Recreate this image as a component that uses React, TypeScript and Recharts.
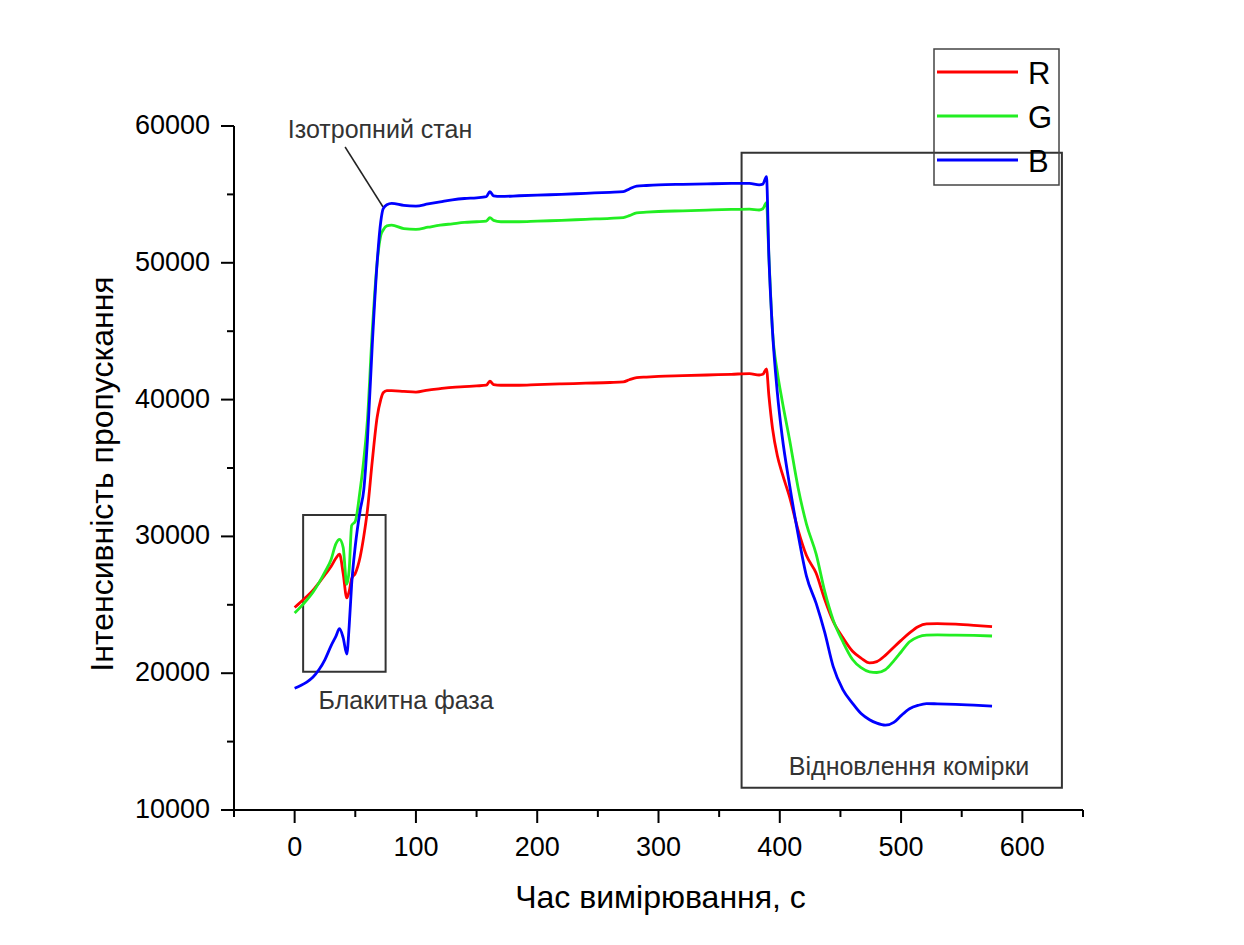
import { LineChart, Line, XAxis, YAxis, Legend, ReferenceArea, ReferenceLine, ReferenceDot } from 'recharts';

// час, с
const time = [
  0, 5, 10, 15, 20, 25, 30, 34, 37, 40, 43, 45, 47, 50, 54, 57, 60, 64, 68, 71, 73, 76, 80, 90, 100, 110, 120, 130,
  140, 150, 158, 161, 164, 170, 185, 200, 220, 240, 260, 271, 276, 282, 290, 300, 320, 340, 360, 375, 383, 386, 389,
  391, 394, 398, 402, 408, 415, 422, 430, 437, 444, 452, 460, 467, 474, 480, 487, 494, 500, 507, 514, 521, 530, 545,
  560, 575,
];

const red = [
  24800, 25200, 25600, 26050, 26600, 27200, 27800, 28400, 28700, 27300, 25500, 26000, 26900, 27300, 28500, 30000,
  31900, 35500, 38700, 40000, 40500, 40650, 40650, 40600, 40550, 40700, 40800, 40900, 40950, 41000, 41050, 41350,
  41100, 41050, 41050, 41100, 41150, 41200, 41250, 41300, 41450, 41600, 41650, 41700, 41750, 41800, 41850, 41900,
  41800, 41850, 42250, 40300, 37900, 35900, 34600, 32900, 30500, 28600, 27300, 25400, 23800, 22600, 21600, 21100,
  20750, 20850, 21300, 21900, 22400, 22950, 23400, 23600, 23620, 23580, 23500, 23400,
];

const green = [
  24400, 24850, 25350, 25900, 26600, 27400, 28300, 29450, 29780, 29200, 26500, 27600, 30800, 31100, 33400, 35600,
  38500, 45000, 50000, 52000, 52400, 52700, 52750, 52500, 52450, 52600, 52750, 52850, 52950, 53000, 53050, 53300,
  53100, 53000, 53000, 53050, 53100, 53180, 53250, 53310, 53450, 53650, 53700, 53750, 53800, 53850, 53900, 53930,
  53860, 53950, 54400, 50500, 45000, 42000, 39900, 37100, 33600, 30900, 28700, 26000, 23900, 22300, 21000, 20400,
  20100, 20050, 20250, 20900, 21550, 22300, 22650, 22780, 22800, 22780, 22760, 22720,
];

const blue = [
  18900, 19100, 19350, 19700, 20250, 21000, 22000, 22700, 23250, 22600, 21400, 23500, 26500, 29300, 31900, 33400,
  37000, 44000, 50000, 53000, 53950, 54250, 54350, 54200, 54150, 54300, 54450, 54600, 54700, 54750, 54830, 55200,
  54900, 54850, 54900, 54950, 55000, 55080, 55150, 55200, 55400, 55600, 55650, 55700, 55740, 55770, 55800, 55810,
  55700, 55750, 56300, 50500, 45000, 40500, 37300, 33800, 30200, 27100, 25100, 23000, 20500, 18800, 17800, 17050,
  16600, 16350, 16200, 16400, 16900, 17400, 17650, 17780, 17760, 17720, 17660, 17600,
];

const seriesOrder = ['R', 'G', 'B'];
const xTicks = [-50, 0, 50, 100, 150, 200, 250, 300, 350, 400, 450, 500, 550, 600, 650];
const yTicks = [10000, 15000, 20000, 25000, 30000, 35000, 40000, 45000, 50000, 55000, 60000];

const data = time.map((t, i) => ({ t, R: red[i], G: green[i], B: blue[i] }));

const FONT = '"Liberation Sans", Arial, sans-serif';

const YTick = ({ x, y, payload }: any) => {
  const major = payload.value % 10000 === 0;
  return (
    <g>
      <line x1={x} x2={x - (major ? 13 : 7)} y1={y} y2={y} stroke="#000" strokeWidth={2} />
      {major && (
        <text x={x - 24} y={y + 8} textAnchor="end" fontSize={27} fontFamily={FONT} fill="#000">
          {payload.value}
        </text>
      )}
    </g>
  );
};

const XTick = ({ x, y, payload }: any) => {
  const major = payload.value % 100 === 0;
  return (
    <g>
      <line x1={x} x2={x} y1={y} y2={y + (major ? 13 : 7)} stroke="#000" strokeWidth={2} />
      {major && (
        <text x={x} y={y + 46} textAnchor="middle" fontSize={27} fontFamily={FONT} fill="#000">
          {payload.value}
        </text>
      )}
    </g>
  );
};

const YTitle = ({ viewBox }: any) => {
  const cx = viewBox.x + 94;
  const cy = viewBox.y + viewBox.height / 2 + 6;
  return (
    <text x={cx} y={cy} transform={`rotate(-90 ${cx} ${cy})`} textAnchor="middle" dominantBaseline="central"
      fontSize={32} fontFamily={FONT} fill="#000">
      Інтенсивність пропускання
    </text>
  );
};

const XTitle = ({ viewBox }: any) => (
  <text x={viewBox.x + viewBox.width / 2 + 2} y={viewBox.y + 98} textAnchor="middle" fontSize={32} fontFamily={FONT}
    fill="#000">
    Час вимірювання, с
  </text>
);

const LegendBox = ({ payload }: any) => {
  const items = [...(payload || [])].sort(
    (a: any, b: any) => seriesOrder.indexOf(a.value) - seriesOrder.indexOf(b.value),
  );
  return (
    <svg width={128} height={138} style={{ display: 'block', overflow: 'visible' }}>
      <rect x={1} y={1} width={125} height={136} fill="none" stroke="#444" strokeWidth={1.5} />
      {items.map((e: any, i: number) => (
        <g key={e.value}>
          <line x1={4} x2={85} y1={24 + i * 44} y2={24 + i * 44} stroke={e.color} strokeWidth={3} />
          <text x={95} y={36 + i * 44} fontSize={31} fontFamily={FONT} fill="#000">
            {e.value}
          </text>
        </g>
      ))}
    </svg>
  );
};

export default function App() {
  return (
    <div style={{ fontFamily: FONT }}>
      <LineChart width={1228} height={929} data={data} margin={{ top: 118, right: 153, left: 0, bottom: 0 }}>
        <XAxis dataKey="t" type="number" domain={[-50, 650]} ticks={xTicks} interval={0} height={127}
          axisLine={{ stroke: '#000', strokeWidth: 2 }} tickLine={false} tickSize={0} tickMargin={0}
          tick={<XTick />} label={<XTitle />} allowDataOverflow />
        <YAxis type="number" domain={[10000, 60000]} ticks={yTicks} interval={0} width={226}
          axisLine={{ stroke: '#000', strokeWidth: 2 }} tickLine={false} tickSize={0} tickMargin={0}
          tick={<YTick />} label={<YTitle />} allowDataOverflow />
        <Legend layout="horizontal" verticalAlign="middle" align="center" content={<LegendBox />}
          wrapperStyle={{ left: 925, top: 40, width: 128, height: 138 }} />
        <ReferenceArea x1={7} x2={75} y1={20100} y2={31560} fill="none" fillOpacity={0} stroke="#333" strokeWidth={2} />
        <ReferenceArea x1={368.5} x2={632.6} y1={11630} y2={58050} fill="none" fillOpacity={0} stroke="#333"
          strokeWidth={2} />
        <ReferenceLine segment={[{ x: 41.6, y: 58465 }, { x: 72.9, y: 54079 }]} stroke="#222" strokeWidth={1.5} />
        <ReferenceDot x={70.4} y={59780} r={0} fill="none" stroke="none"
          label={{ value: 'Ізотропний стан', position: 'center', fontSize: 25, fill: '#333', fontFamily: FONT }} />
        <ReferenceDot x={91.9} y={18041} r={0} fill="none" stroke="none"
          label={{ value: 'Блакитна фаза', position: 'center', fontSize: 25, fill: '#333', fontFamily: FONT }} />
        <ReferenceDot x={506.6} y={13194} r={0} fill="none" stroke="none"
          label={{ value: 'Відновлення комірки', position: 'center', fontSize: 25, fill: '#333', fontFamily: FONT }} />
        <Line type="monotone" dataKey="R" name="R" stroke="#ff0000" strokeWidth={2.8} dot={false} isAnimationActive={false} />
        <Line type="monotone" dataKey="G" name="G" stroke="#22ee22" strokeWidth={2.8} dot={false} isAnimationActive={false} />
        <Line type="monotone" dataKey="B" name="B" stroke="#0000ff" strokeWidth={2.8} dot={false} isAnimationActive={false} />
      </LineChart>
    </div>
  );
}
